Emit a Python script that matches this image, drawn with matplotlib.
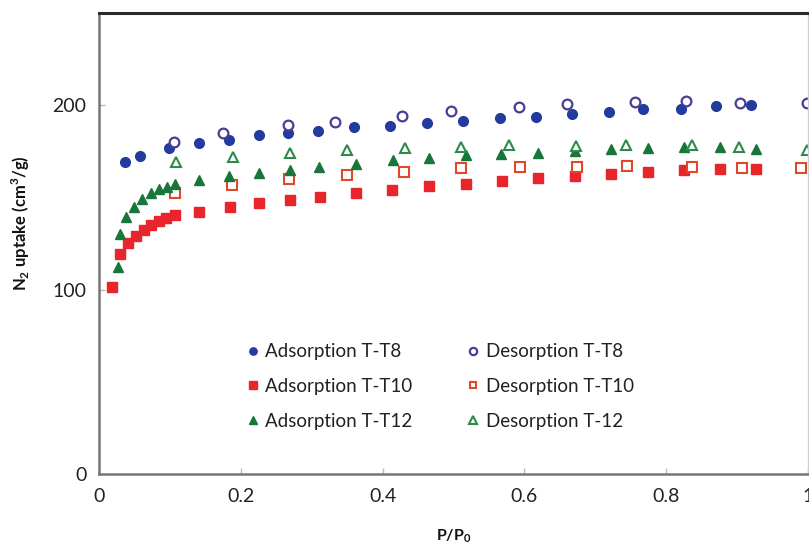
import matplotlib
matplotlib.use("Agg")
import matplotlib.pyplot as plt

plt.rcParams['font.family'] = ['Lato', 'DejaVu Sans']
plt.rcParams['mathtext.fontset'] = 'custom'
plt.rcParams['mathtext.rm'] = 'Lato'
plt.rcParams['mathtext.bf'] = 'Lato:bold'

# N2 isotherm data: relative pressure P/P0 and uptake (cm3/g)
ads_t8_p = [0.037, 0.058, 0.099, 0.141, 0.184, 0.225, 0.267, 0.309, 0.360, 0.411,
            0.463, 0.514, 0.565, 0.617, 0.667, 0.719, 0.767, 0.821, 0.870, 0.919]
ads_t8_v = [169.2, 172.4, 176.8, 179.5, 181.1, 183.8, 184.9, 185.9, 188.1, 188.6,
            190.3, 191.4, 193.0, 193.5, 195.1, 196.2, 197.8, 197.8, 199.5, 200.0]

des_t8_p = [0.106, 0.175, 0.266, 0.333, 0.428, 0.496, 0.593, 0.660, 0.756, 0.828, 0.904, 0.999]
des_t8_v = [180.0, 184.9, 189.2, 190.8, 194.1, 196.8, 198.9, 200.5, 201.6, 202.2, 201.1, 201.1]

ads_t10_p = [0.019, 0.030, 0.041, 0.052, 0.063, 0.074, 0.084, 0.095, 0.107, 0.141,
             0.185, 0.226, 0.270, 0.312, 0.363, 0.413, 0.466, 0.517, 0.568, 0.619,
             0.671, 0.722, 0.774, 0.825, 0.876, 0.927]
ads_t10_v = [101.6, 119.5, 125.4, 129.2, 132.2, 135.0, 137.3, 138.9, 140.3, 142.2,
             144.9, 146.9, 148.6, 150.4, 152.3, 154.1, 156.2, 157.3, 159.1, 160.4,
             161.8, 162.9, 163.8, 164.7, 165.4, 165.3]

des_t10_p = [0.107, 0.188, 0.268, 0.350, 0.430, 0.511, 0.594, 0.674, 0.745, 0.836, 0.907, 0.990]
des_t10_v = [152.6, 156.9, 159.8, 162.0, 163.6, 165.8, 166.3, 166.6, 167.0, 166.6, 166.1, 165.8]

ads_t12_p = [0.027, 0.030, 0.038, 0.050, 0.061, 0.073, 0.084, 0.096, 0.107, 0.141,
             0.184, 0.226, 0.269, 0.311, 0.363, 0.414, 0.466, 0.517, 0.567, 0.619,
             0.671, 0.722, 0.774, 0.825, 0.876, 0.927]
ads_t12_v = [112.2, 130.4, 139.5, 144.6, 148.9, 152.3, 154.3, 155.8, 157.2, 159.5,
             161.8, 163.4, 164.9, 166.3, 167.9, 170.3, 171.2, 173.0, 173.5, 174.2,
             175.3, 176.2, 176.9, 177.5, 177.5, 176.2]

des_t12_p = [0.109, 0.189, 0.270, 0.350, 0.432, 0.510, 0.578, 0.673, 0.743, 0.836, 0.902, 0.999]
des_t12_v = [169.0, 172.1, 174.2, 175.8, 176.6, 177.5, 178.4, 178.0, 178.5, 178.4, 177.5, 175.7]

x_ticks = [0, 0.2, 0.4, 0.6, 0.8, 1.0]
x_tick_labels = ["0", "0.2", "0.4", "0.6", "0.8", "1"]
y_ticks = [0, 100, 200]

blue = "#233b9e"
blue_open = "#4a3d96"
red = "#e8252b"
red_open = "#e0482c"
green = "#17773a"
green_open = "#2d8a4c"

fig = plt.figure(figsize=(8.09, 5.44), dpi=100)
ax = fig.add_axes([99 / 809, 70 / 544, 709 / 809, 461 / 544])

ms = 7
ax.plot(ads_t8_p, ads_t8_v, 'o', color=blue, ms=ms, mec=blue, label="Adsorption T-T8")
ax.plot(des_t8_p, des_t8_v, 'o', mfc='white', mec=blue_open, mew=1.6, ms=ms, label="Desorption T-T8")
ax.plot(ads_t10_p, ads_t10_v, 's', color=red, ms=ms, mec=red, label="Adsorption T-T10")
ax.plot(des_t10_p, des_t10_v, 's', mfc='white', mec=red_open, mew=1.5, ms=ms - 0.5, label="Desorption T-T10")
ax.plot(ads_t12_p, ads_t12_v, '^', color=green, ms=ms, mec=green, label="Adsorption T-T12")
ax.plot(des_t12_p, des_t12_v, '^', mfc='white', mec=green_open, mew=1.5, ms=ms, label="Desorption T-12")

ax.set_xlim(0, 1)
ax.set_ylim(0, 250)
ax.set_xticks(x_ticks)
ax.set_xticklabels(x_tick_labels)
ax.set_yticks(y_ticks)
ax.tick_params(axis='both', direction='in', length=4, width=1, color='#bbbbbb',
               labelsize=14, labelcolor='#222222')
ax.tick_params(axis='x', pad=10)
ax.tick_params(axis='y', pad=9)

for side in ('left', 'bottom'):
    ax.spines[side].set_color('#777777')
    ax.spines[side].set_linewidth(1.8)
ax.spines['top'].set_color('#2a2a2a')
ax.spines['top'].set_linewidth(2.2)
ax.spines['right'].set_color('#cccccc')
ax.spines['right'].set_linewidth(1.0)

ax.set_ylabel(r'N$_{\mathbf{2}}$ uptake (cm$^{\mathbf{3}}$/g)', fontsize=12, fontweight='bold', color='#111111')
ax.yaxis.set_label_coords(-0.095, 0.544)
ax.set_xlabel(r'P/P$_{\mathbf{0}}$', fontsize=11.5, fontweight='bold', color='#111111')
ax.xaxis.set_label_coords(0.5, -0.115)

handles, labels = ax.get_legend_handles_labels()
order = [0, 2, 4, 1, 3, 5]
leg = ax.legend([handles[i] for i in order], [labels[i] for i in order],
                ncol=2, frameon=False, fontsize=13.5, markerscale=0.75,
                handlelength=0.8, handletextpad=0.25, labelspacing=0.95,
                columnspacing=2.85, loc='upper left',
                bbox_to_anchor=(0.196, 0.30), borderaxespad=0)
for t in leg.get_texts():
    t.set_color('#222222')

fig.savefig("out.png", dpi=100)
